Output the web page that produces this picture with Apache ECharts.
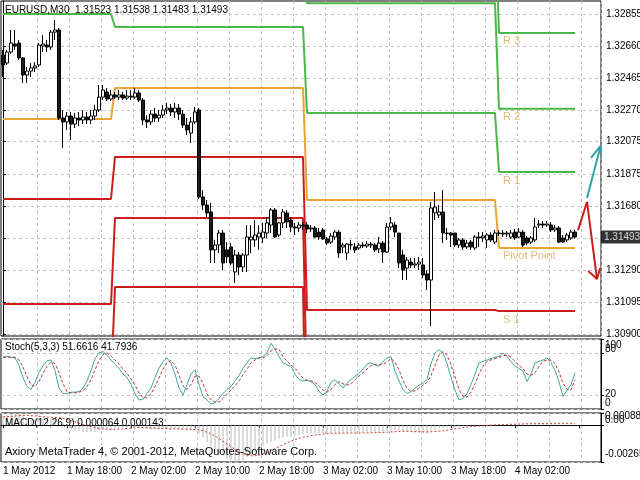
<!DOCTYPE html>
<html><head><meta charset="utf-8">
<script src="https://cdn.jsdelivr.net/npm/echarts@6/dist/echarts.min.js"></script>
<style>html,body{margin:0;padding:0;background:#fff}#c{width:640px;height:480px}</style>
</head><body><div id="c"></div>
<script>
// ---------- DATA ----------
// candles: [open, close, low, high], one per 30-minute bar starting 1 May 2012 10:00
const candles = [
[1.32605,1.32544,1.32471,1.32636],[1.32556,1.32623,1.32544,1.32636],[1.32623,1.32678,1.32611,1.32758],[1.32672,1.32660,1.32636,1.32758],
[1.32678,1.32587,1.32574,1.32697],[1.32587,1.32483,1.32434,1.32593],[1.32483,1.32507,1.32434,1.32532],[1.32507,1.32526,1.32471,1.32556],
[1.32526,1.32538,1.32501,1.32562],[1.32544,1.32666,1.32532,1.32678],[1.32660,1.32672,1.32623,1.32727],[1.32666,1.32654,1.32623,1.32697],
[1.32654,1.32745,1.32636,1.32758],[1.32745,1.32758,1.32697,1.32819],[1.32758,1.32220,1.32208,1.32770],[1.32220,1.32196,1.32037,1.32269],
[1.32196,1.32232,1.32147,1.32257],[1.32232,1.32183,1.32086,1.32257],[1.32183,1.32220,1.32159,1.32251],[1.32220,1.32208,1.32171,1.32257],
[1.32208,1.32226,1.32183,1.32269],[1.32226,1.32208,1.32183,1.32257],[1.32208,1.32232,1.32183,1.32269],[1.32232,1.32269,1.32208,1.32300],
[1.32269,1.32348,1.32257,1.32422],[1.32348,1.32391,1.32330,1.32422],[1.32379,1.32336,1.32324,1.32403],[1.32336,1.32361,1.32324,1.32391],
[1.32361,1.32348,1.32336,1.32379],[1.32348,1.32361,1.32330,1.32391],[1.32361,1.32342,1.32330,1.32379],[1.32342,1.32354,1.32330,1.32391],
[1.32354,1.32348,1.32330,1.32391],[1.32348,1.32373,1.32336,1.32403],[1.32373,1.32330,1.32318,1.32391],[1.32330,1.32208,1.32177,1.32342],
[1.32208,1.32196,1.32159,1.32238],[1.32196,1.32244,1.32177,1.32269],[1.32244,1.32220,1.32196,1.32281],[1.32220,1.32238,1.32196,1.32269],
[1.32238,1.32269,1.32220,1.32300],[1.32269,1.32281,1.32244,1.32312],[1.32281,1.32257,1.32232,1.32306],[1.32257,1.32281,1.32220,1.32312],
[1.32281,1.32244,1.32208,1.32306],[1.32244,1.32177,1.32159,1.32269],[1.32177,1.32147,1.32116,1.32220],[1.32128,1.32196,1.32067,1.32226],
[1.32196,1.32257,1.32183,1.32287],[1.32269,1.31737,1.31725,1.32281],[1.31737,1.31688,1.31658,1.31780],[1.31688,1.31640,1.31615,1.31719],
[1.31646,1.31414,1.31334,1.31701],[1.31414,1.31444,1.31334,1.31475],[1.31444,1.31517,1.31395,1.31536],[1.31517,1.31334,1.31291,1.31536],
[1.31414,1.31371,1.31334,1.31462],[1.31432,1.31334,1.31322,1.31456],[1.31279,1.31383,1.31212,1.31414],[1.31383,1.31310,1.31261,1.31401],
[1.31310,1.31383,1.31279,1.31395],[1.31383,1.31493,1.31279,1.31566],[1.31475,1.31493,1.31395,1.31566],[1.31475,1.31505,1.31432,1.31597],
[1.31493,1.31517,1.31414,1.31566],[1.31487,1.31523,1.31456,1.31579],[1.31517,1.31579,1.31487,1.31615],[1.31566,1.31658,1.31517,1.31670],
[1.31658,1.31493,1.31487,1.31670],[1.31505,1.31579,1.31493,1.31585],[1.31579,1.31646,1.31548,1.31664],[1.31640,1.31585,1.31548,1.31658],
[1.31597,1.31554,1.31523,1.31615],[1.31554,1.31548,1.31505,1.31579],[1.31548,1.31566,1.31523,1.31585],[1.31566,1.31560,1.31536,1.31585],
[1.31566,1.31542,1.31517,1.31585],[1.31542,1.31548,1.31523,1.31566],[1.31548,1.31493,1.31487,1.31560],[1.31523,1.31493,1.31475,1.31548],
[1.31536,1.31481,1.31475,1.31548],[1.31481,1.31456,1.31444,1.31493],[1.31462,1.31499,1.31450,1.31517],[1.31493,1.31523,1.31475,1.31536],
[1.31523,1.31395,1.31365,1.31536],[1.31432,1.31444,1.31395,1.31456],[1.31395,1.31450,1.31352,1.31456],[1.31444,1.31446,1.31414,1.31475],
[1.31432,1.31414,1.31395,1.31456],[1.31426,1.31444,1.31414,1.31456],[1.31444,1.31438,1.31426,1.31462],[1.31438,1.31450,1.31426,1.31468],
[1.31450,1.31444,1.31426,1.31462],[1.31444,1.31414,1.31401,1.31456],[1.31420,1.31456,1.31395,1.31493],[1.31456,1.31401,1.31334,1.31468],
[1.31401,1.31554,1.31395,1.31579],[1.31554,1.31579,1.31536,1.31615],[1.31566,1.31523,1.31493,1.31585],[1.31517,1.31334,1.31303,1.31517],
[1.31383,1.31291,1.31230,1.31414],[1.31303,1.31352,1.31230,1.31371],[1.31340,1.31322,1.31303,1.31365],[1.31322,1.31328,1.31303,1.31365],
[1.31328,1.31340,1.31291,1.31371],[1.31322,1.31261,1.31242,1.31365],[1.31267,1.31230,1.31169,1.31291],[1.31230,1.31670,1.30949,1.31707],
[1.31640,1.31676,1.31597,1.31768],[1.31627,1.31646,1.31609,1.31688],[1.31646,1.31517,1.31456,1.31780],[1.31517,1.31515,1.31475,1.31548],
[1.31517,1.31505,1.31432,1.31523],[1.31517,1.31444,1.31432,1.31517],[1.31444,1.31475,1.31426,1.31487],[1.31475,1.31432,1.31414,1.31487],
[1.31432,1.31456,1.31420,1.31475],[1.31462,1.31432,1.31414,1.31475],[1.31426,1.31493,1.31414,1.31505],[1.31493,1.31487,1.31432,1.31523],
[1.31487,1.31499,1.31462,1.31523],[1.31475,1.31505,1.31426,1.31517],[1.31505,1.31475,1.31462,1.31523],[1.31462,1.31517,1.31450,1.31536],
[1.31517,1.31515,1.31499,1.31536],[1.31517,1.31511,1.31493,1.31536],[1.31511,1.31517,1.31493,1.31530],[1.31493,1.31517,1.31481,1.31536],
[1.31523,1.31487,1.31475,1.31542],[1.31493,1.31523,1.31487,1.31548],[1.31523,1.31444,1.31432,1.31536],[1.31487,1.31456,1.31444,1.31499],
[1.31462,1.31487,1.31450,1.31499],[1.31475,1.31554,1.31462,1.31609],[1.31566,1.31572,1.31548,1.31597],[1.31572,1.31566,1.31548,1.31591],
[1.31566,1.31572,1.31554,1.31591],[1.31566,1.31536,1.31523,1.31585],[1.31536,1.31548,1.31523,1.31566],[1.31548,1.31462,1.31456,1.31560],
[1.31487,1.31462,1.31456,1.31505],[1.31475,1.31505,1.31462,1.31517],[1.31487,1.31523,1.31475,1.31536],[1.31523,1.31493,1.31483,1.31538]
];
// daily pivot levels (day 1..4) and first bar of each day
const dayStartBar = [0, 28, 76, 124];
const pivotP  = [1.32214, 1.32403, 1.31719, 1.31426];
const pivotR1 = [1.32855, 1.32776, 1.32250, 1.31890];
const pivotR2 = [1.33344, 1.33197, 1.32922, 1.32276];
const pivotR3 = [1.33985, 1.33570, 1.33453, 1.32740];
const pivotS1 = [1.31725, 1.31982, 1.31047, 1.31040];
const pivotS2 = [1.31084, 1.31609, 1.30516, 1.30576];
const pivotS3 = [1.30595, 1.31188, 1.29844, 1.30190];
const pivotLabelNames = ['R 3', 'R 2', 'R 1', 'Pivot Point', 'S 1'];
const pivotLabelValues = [1.32740, 1.32276, 1.31890, 1.31426, 1.31040];
const pivotLabelBar = 125;

const currentPrice = 1.31493;
// hand-drawn forecast arrows: [bar position, price]
const arrowUpLine = [[146.0, 1.31731], [149.4, 1.32049]];
const arrowUpHead = [[147.0, 1.31976], [149.4, 1.32049], [150.0, 1.31957]];
const arrowDownLine = [[143.75, 1.31535], [146.0, 1.31707], [148.5, 1.31236]];
const arrowDownHead = [[146.3, 1.31285], [148.5, 1.31236], [149.3, 1.31303]];

const stochMain = [74,75,74,73,62,45,32,28,38,52, 62,69,70,55,30,22,22,24,24,25, 30,40,55,72,80,82,77,70,64,58,
 50,45,35,22,13,14,22,30,45,58, 68,73,65,50,30,20,35,50,56,35, 18,13,7,9,15,22,28,32,40,48,
 58,66,73,72,73,75,80,94,85,75, 66,63,61,50,42,40,41,39,35,25, 20,26,38,42,36,30,37,42,47,51,
 57,64,66,63,61,68,73,75,54,40, 28,22,25,30,34,37,42,65,80,85, 80,65,45,27,13,15,22,35,50,66,
 68,70,72,74,75,80,75,68,61,58, 54,39,50,66,68,70,73,66,55,39, 18,27,35,51.6616];
const stochSignal = [74,74,74,74,70,60,46,35,32,39, 51,61,67,65,52,36,25,23,23,24, 26,32,42,56,69,78,80,76,70,64,
 57,51,43,34,23,16,16,22,32,44, 57,66,69,63,48,33,28,35,47,47, 36,22,13,10,10,15,22,27,33,40,
 49,57,66,70,73,73,76,83,86,85, 75,68,63,58,51,44,41,40,38,33, 27,24,28,35,39,36,34,36,42,47,
 52,57,62,64,63,64,67,72,67,56, 41,30,25,26,30,34,38,48,62,77, 82,77,63,46,28,18,17,24,36,50,
 61,68,70,72,74,76,77,74,68,62, 58,50,48,52,61,68,70,70,65,53, 37,28,27,41.7936];

const macdMain = [0.0007,0.00075,0.00082,0.000888,0.00085,0.0007,0.00058,0.0005,0.00045,0.00045,0.00048,0.0005,0.00052,0.00058,
 0.0003,0.0001,-0.0001,-0.00025,-0.00035,-0.00042,-0.00048,-0.0005,-0.0005,-0.00048,-0.0004,-0.00032,-0.00028,-0.00025,
 -0.0002,-0.00018,-0.00016,-0.00015,-0.00014,-0.00013,-0.00014,-0.0002,-0.00026,-0.0003,-0.0003,-0.0003,-0.00028,-0.00026,-0.00026,-0.00025,-0.00026,-0.0003,-0.00035,-0.00036,-0.00032,
 -0.0006,-0.0009,-0.0012,-0.0015,-0.0018,-0.002,-0.0022,-0.0024,-0.0025,-0.00265,-0.0026,-0.0025,-0.0023,-0.0021,-0.0019,-0.0017,-0.0015,-0.0013,-0.0012,-0.0011,-0.001,-0.0009,-0.00085,-0.0008,-0.00075,-0.0007,-0.00065,
 -0.00058,-0.00056,-0.00056,-0.00056,-0.00056,-0.00058,-0.00056,-0.00052,-0.00056,-0.00058,-0.00058,-0.00056,-0.00056,-0.00054,-0.00052,-0.0005,-0.00048,-0.00048,-0.00046,-0.00046,-0.0004,-0.00034,-0.00032,-0.00036,-0.00042,-0.00046,-0.0005,-0.00052,-0.00054,-0.00056,-0.0006,
 -0.00045,-0.0003,-0.0002,-0.00016,-0.00012,-0.0001,-0.0001,-0.00008,-0.00006,-0.00005,-0.00004,-0.00002,0,0.00001,0.00002,0.00003,0.00004,0.00005,0.00005,0.00006,0.00006,0.00007,0.00007,0.00006,0.00005,0.00006,0.00008,0.00009,0.00009,0.0001,0.00009,0.00008,0.00006,0.00005,0.00006,0.00006,0.000064];
const macdSignal = [0.0006,0.00062,0.00064,0.00067,0.0007,0.00072,0.00072,0.0007,0.00068,0.00065,0.00062,0.0006,0.00058,0.00057,0.00055,
 0.0005,0.00042,0.00033,0.00024,0.00015,0.00006,-0.00003,-0.0001,-0.00017,-0.00022,-0.00026,-0.00028,-0.0003,
 -0.00029,-0.00027,-0.00025,-0.00022,-0.0002,-0.00018,-0.00016,-0.00016,-0.00017,-0.00019,-0.0002,-0.00022,-0.00024,-0.00025,-0.00026,-0.00026,-0.00026,-0.00027,-0.00028,-0.00029,-0.0003,
 -0.00033,-0.0004,-0.0005,-0.00062,-0.00078,-0.00095,-0.00115,-0.00135,-0.00155,-0.00175,-0.00192,-0.00205,-0.00215,-0.0022,-0.0022,-0.00215,-0.00205,-0.00195,-0.00182,-0.00168,-0.00155,-0.0014,-0.00127,-0.00115,-0.00104,-0.00095,-0.00087,-0.0008,-0.00074,-0.0007,-0.00066,-0.00063,-0.0006,-0.00058,-0.00057,-0.00057,-0.00057,
 -0.00056,-0.00056,-0.00056,-0.00056,-0.00055,-0.00055,-0.00054,-0.00053,-0.00052,-0.00051,-0.0005,-0.00048,-0.00046,-0.00044,-0.00043,-0.00043,-0.00044,-0.00045,-0.00046,-0.00047,-0.00048,-0.00047,-0.00045,-0.00042,-0.0004,-0.00036,-0.00031,-0.00026,-0.00021,-0.00017,-0.00013,-0.0001,-0.00007,-0.00005,-0.00003,-0.00001,0.00001,0.00003,0.00004,0.00005,0.00006,0.00007,0.00008,0.00009,0.0001,0.00011,0.00012,0.00012,0.00013,0.00013,0.00014,0.00014,0.00014,0.00014,0.00014,0.00014,0.00014,0.000143];

const priceTicks = [1.32855,1.32660,1.32465,1.32270,1.32075,1.31875,1.31680,1.31485,1.31290,1.31095,1.30900];
const priceLabelTicks = [1.32855,1.32660,1.32465,1.32270,1.32075,1.31875,1.31680,1.31290,1.31095,1.30900];
const stochTicks = [100, 80, 20, 0];
const stochInnerLabels = [80, 20];
const stochEdgeLabels = [100, 0];
const macdTicks = [0.000888, 0, -0.00265];
const macdTickLabels = ['0.000888', '0.00', '-0.00265'];
const dateLabels = ['1 May 2012','1 May 18:00','2 May 02:00','2 May 10:00','2 May 18:00','3 May 02:00','3 May 10:00','3 May 18:00','4 May 02:00'];
const titleMain = 'EURUSD,M30  1.31523 1.31538 1.31483 1.31493';
const titleStoch = 'Stoch(5,3,3) 51.6616 41.7936';
const titleMacd = 'MACD(12,26,9) 0.000064 0.000143';
const copyright = 'Axiory MetaTrader 4, \u00A9 2001-2012, MetaQuotes-Software Corp.';

// ---------- CHART ----------
const N = 150;
const lastBar = candles.length - 1;
const cats = Array.from({length: N}, (_, i) => String(i));
function expand(levels) {
  const out = [];
  for (let i = 0; i < N; i++) {
    if (i > lastBar) { out.push('-'); continue; }
    let d = 0;
    for (let k = 0; k < dayStartBar.length; k++) if (i >= dayStartBar[k]) d = k;
    out.push(levels[d]);
  }
  return out;
}
const FONT = 'Liberation Sans';
const dash = {show: true, lineStyle: {color: '#c4c4c4', type: [3, 3], width: 1}};
const vGrid = {show: true, interval: (i) => i % 8 === 1 && i > 1, lineStyle: {color: '#c4c4c4', type: [3, 3], width: 1}};
const GREEN = '#48b848', ORANGE = '#e8a630', RED = '#cc1c1c';

// vertical nudge (px) of panel-edge labels, MT4 keeps them inside the panel
const gapSizes = [2, 4, 6, 8, 10, 12, 16];
const labelRich = {t: {fontSize: 10, lineHeight: 12, color: '#000', fontFamily: FONT}};
gapSizes.forEach(h => { labelRich['g' + h] = {fontSize: 1, lineHeight: h}; });
function nudged(text, d) {
  if (!d) return '{t|' + text + '}';
  const h = Math.abs(d) * 2;
  return d > 0 ? '{g' + h + '| }\n{t|' + text + '}' : '{t|' + text + '}\n{g' + h + '| }';
}
const stochNudge = {100: 6, 80: -4, 20: -1, 0: -6};
const macdNudge = [3, -5, -8];
const macdLabelFor = (v) => { const k = macdTicks.findIndex(t => Math.abs(t - v) < 1e-7); return k < 0 ? '' : nudged(macdTickLabels[k], macdNudge[k]); };

function catAxis(gi, labels) {
  return {
    type: 'category', gridIndex: gi, data: cats, boundaryGap: true,
    axisLine: {show: labels, lineStyle: {color: '#000'}},
    axisTick: labels ? {show: true, interval: (i) => i % 16 === 0, alignWithLabel: true, length: 3, lineStyle: {color: '#000'}} : {show: false},
    axisLabel: labels ? {show: true, interval: (i) => i % 16 === 0, formatter: (v, i) => dateLabels[Math.round(Number(v) / 16)] || '',
      align: 'left', margin: 4, color: '#000', fontSize: 10, fontFamily: FONT} : {show: false},
    splitLine: vGrid
  };
}
function hiddenCat(gi) {
  return {type: 'category', gridIndex: gi, data: cats, show: false};
}
function levelSeries(name, vals, color) {
  return {name, type: 'line', xAxisIndex: 0, yAxisIndex: 0, data: expand(vals), showSymbol: false, symbol: 'none',
    lineStyle: {color, width: 2}, itemStyle: {color}, z: 3, silent: true, animation: false};
}
const STOCH_BOX = {left: 1, top: 339, width: 600, height: 70};
const MACD_BOX = {left: 1, top: 413, width: 600, height: 49};
const labelOnlyAxis = (gi, min, max, values, fmt) => ({
  type: 'value', gridIndex: gi, position: 'right', min, max,
  axisLine: {show: false}, axisTick: {show: false}, splitLine: {show: false},
  axisLabel: {show: true, customValues: values, margin: 4, rich: labelRich, formatter: fmt}
});

const chart = echarts.init(document.getElementById('c'), null, {renderer: 'canvas'});
const option = {
  backgroundColor: '#fff',
  animation: false,
  textStyle: {fontFamily: FONT},
  grid: [
    {left: 1, top: 1, width: 600, height: 335, show: true, borderColor: '#000', borderWidth: 1, containLabel: false, outerBoundsMode: 'none'},
    Object.assign({show: true, borderColor: '#000', borderWidth: 1, containLabel: false, outerBoundsMode: 'none'}, STOCH_BOX),
    Object.assign({show: true, borderColor: '#000', borderWidth: 1, containLabel: false, outerBoundsMode: 'none'}, MACD_BOX),
    Object.assign({show: false, containLabel: false, outerBoundsMode: 'none'}, STOCH_BOX),
    Object.assign({show: false, containLabel: false, outerBoundsMode: 'none'}, MACD_BOX)
  ],
  xAxis: [
    catAxis(0, false), catAxis(1, false), catAxis(2, true),
    {type: 'value', gridIndex: 0, min: -0.5, max: N - 0.5, show: false},
    hiddenCat(3), hiddenCat(4)
  ],
  yAxis: [
    {type: 'value', gridIndex: 0, position: 'right', min: 1.30888, max: 1.32935,
      axisLine: {show: true, lineStyle: {color: '#000'}},
      axisTick: {show: true, customValues: priceTicks, length: 3, lineStyle: {color: '#000'}},
      axisLabel: {show: true, customValues: priceLabelTicks, formatter: (v) => Number(v).toFixed(5), color: '#000', fontSize: 10, margin: 5, fontFamily: FONT},
      splitLine: dash},
    {type: 'value', gridIndex: 1, position: 'right', min: 0, max: 100,
      axisLine: {show: true, lineStyle: {color: '#000'}},
      axisTick: {show: true, customValues: stochTicks, length: 3, lineStyle: {color: '#000'}},
      axisLabel: {show: true, customValues: stochInnerLabels, margin: 4, rich: labelRich,
        formatter: (v) => nudged(String(v), stochNudge[Math.round(v)] || 0)},
      splitLine: dash},
    {type: 'value', gridIndex: 2, position: 'right', min: -0.00265, max: 0.000888,
      axisLine: {show: true, lineStyle: {color: '#000'}},
      axisTick: {show: true, customValues: macdTicks, length: 3, lineStyle: {color: '#000'}},
      axisLabel: {show: true, customValues: [macdTicks[0], macdTicks[2]], margin: 4, rich: labelRich, formatter: macdLabelFor},
      splitLine: dash},
    labelOnlyAxis(3, 0, 100, stochEdgeLabels, (v) => nudged(String(v), stochNudge[Math.round(v)] || 0)),
    labelOnlyAxis(4, -0.00265, 0.000888, [macdTicks[1]], macdLabelFor)
  ],
  series: [
    {name: 'EURUSD', type: 'candlestick', xAxisIndex: 0, yAxisIndex: 0, data: candles, barWidth: 3, z: 4,
      itemStyle: {color: '#ffffff', color0: '#1a1a1a', borderColor: '#000', borderColor0: '#000', borderWidth: 1}},
    {name: 'priceTag', type: 'scatter', xAxisIndex: 3, yAxisIndex: 0, data: [[N - 0.5, currentPrice]], symbolSize: 0, clip: false, silent: true, z: 8,
      label: {show: true, position: 'right', distance: 0, formatter: currentPrice.toFixed(5), color: '#fff', backgroundColor: '#000',
        padding: [2, 4, 1, 3], fontSize: 10, fontFamily: FONT}},
    levelSeries('R3', pivotR3, GREEN),
    levelSeries('R2', pivotR2, GREEN),
    levelSeries('R1', pivotR1, GREEN),
    levelSeries('Pivot', pivotP, ORANGE),
    levelSeries('S1', pivotS1, RED),
    levelSeries('S2', pivotS2, RED),
    levelSeries('S3', pivotS3, RED),
    {name: 'pivotLabels', type: 'scatter', xAxisIndex: 0, yAxisIndex: 0, symbolSize: 0, silent: true, z: 5,
      data: pivotLabelNames.map((n, k) => ({value: [pivotLabelBar, pivotLabelValues[k]], name: n})),
      label: {show: true, position: [0, 3], align: 'left', verticalAlign: 'top', formatter: (p) => p.name, color: '#d8aa55', fontSize: 11, fontFamily: FONT}},
    {name: 'up', type: 'line', xAxisIndex: 3, yAxisIndex: 0, data: arrowUpLine, symbol: 'none', clip: false, lineStyle: {color: '#2fa3a3', width: 2}, z: 6},
    {name: 'upHead', type: 'line', xAxisIndex: 3, yAxisIndex: 0, data: arrowUpHead, symbol: 'none', clip: false, lineStyle: {color: '#2fa3a3', width: 2}, z: 6},
    {name: 'down', type: 'line', xAxisIndex: 3, yAxisIndex: 0, data: arrowDownLine, symbol: 'none', clip: false, lineStyle: {color: '#cc1c1c', width: 2}, z: 6},
    {name: 'downHead', type: 'line', xAxisIndex: 3, yAxisIndex: 0, data: arrowDownHead, symbol: 'none', clip: false, lineStyle: {color: '#cc1c1c', width: 2}, z: 6},
    {name: 'stochMain', type: 'line', xAxisIndex: 1, yAxisIndex: 1, data: stochMain, symbol: 'none', lineStyle: {color: '#3fa7a7', width: 1}},
    {name: 'stochSignal', type: 'line', xAxisIndex: 1, yAxisIndex: 1, data: stochSignal, symbol: 'none', lineStyle: {color: '#c43030', width: 1, type: [3, 2]}},
    {name: 'macd', type: 'bar', xAxisIndex: 2, yAxisIndex: 2, data: macdMain, barWidth: 1, itemStyle: {color: '#b8b8b8'}},
    {name: 'macdSignal', type: 'line', xAxisIndex: 2, yAxisIndex: 2, data: macdSignal, symbol: 'none', lineStyle: {color: '#d04040', width: 1, type: [2, 2]}}
  ],
  graphic: [
    {type: 'text', left: 5, top: 5, z: 100, style: {text: titleMain, font: '10px "Liberation Sans"', fill: '#000'}},
    {type: 'text', left: 5, top: 342, z: 100, style: {text: titleStoch, font: '10px "Liberation Sans"', fill: '#000'}},
    {type: 'text', left: 5, top: 418, z: 100, style: {text: titleMacd, font: '10px "Liberation Sans"', fill: '#000'}},
    {type: 'text', left: 5, top: 446, z: 100, style: {text: copyright, font: '11px "Liberation Sans"', fill: '#000'}}
  ]
};
chart.setOption(option);
</script></body></html>
